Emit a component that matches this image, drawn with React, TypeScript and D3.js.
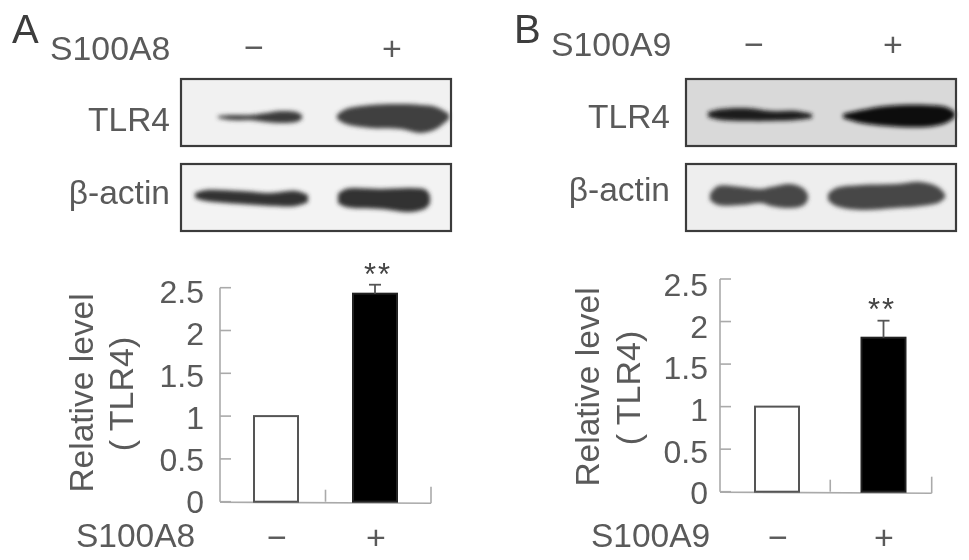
import React from "react";
import * as d3 from "d3";

// ---- data ----
const conditions = ["−", "+"];
const yTicks = [0, 0.5, 1, 1.5, 2, 2.5];
const s100a8Values = [1, 2.43];
const s100a8ErrorTop = [1, 2.535];
const s100a9Values = [1, 1.81];
const s100a9ErrorTop = [1, 2.01];

type Sample = [number, number, number];
const a8Tlr4Minus: Sample[] = [[37,37,39],[50,36,41],[70,36,41],[85,34,43],[100,32,44],[115,33,43],[121,36,40]];
const a8Tlr4Plus: Sample[] = [[156,36,40],[165,30,45],[190,26,49],[220,25,50],[240,26,54],[255,28,50],[268,35,40]];
const a8ActinMinus: Sample[] = [[14,29,34],[25,26,37],[60,27,40],[90,29,42],[115,27,42],[127,31,38]];
const a8ActinPlus: Sample[] = [[157,30,39],[165,25,43],[200,25,45],[230,24,48],[245,26,44],[249,32,39]];
const a9Tlr4Minus: Sample[] = [[22,33,38],[35,30,41],[60,29,42],[85,32,42],[110,32,41],[126,35,39]];
const a9Tlr4Plus: Sample[] = [[157,35,39],[175,31,44],[200,27,47],[240,26,48],[260,28,44],[269,33,38]];
const a9ActinMinus: Sample[] = [[24,30,36],[32,22,41],[55,23,41],[75,25,39],[85,23,42],[105,20,44],[118,25,41],[122,31,35]];
const a9ActinPlus: Sample[] = [[142,30,36],[150,24,42],[175,21,46],[210,20,44],[235,18,42],[252,23,39],[259,30,34]];

const FONT = "'Liberation Sans', Arial, sans-serif";
const TEXT = "#5a5a5a";

function Blot({ x, y, bg, bands, color }: { x: number; y: number; bg: string; bands: Sample[][]; color: string[] }) {
  const w = 270, h = 67;
  const sx = d3.scaleLinear().domain([0, 270]).range([x, x + w]);
  const sy = d3.scaleLinear().domain([0, 67]).range([y, y + h]);
  const area = d3.area<Sample>().x(d => sx(d[0])).y0(d => sy(d[1])).y1(d => sy(d[2])).curve(d3.curveCatmullRom);
  return (
    <g>
      <rect x={x} y={y} width={w} height={h} fill={bg} />
      <g filter="url(#bandBlur)">
        {bands.map((b, i) => <path key={i} d={area(b) || ""} fill={color[i]} />)}
      </g>
      <rect x={x} y={y} width={w} height={h} fill="none" stroke="#3a3a3a" strokeWidth={2.2} filter="url(#soft)" />
    </g>
  );
}

function BarPanel(p: {
  label: string; values: number[]; errors: number[]; axisX: number; axisEnd: number; y0: number; yTop: number;
  labelRight: number; labelY0: number; labelYTop: number; barX: number[]; ylX: [number, number]; ylC: [number, number];
  starX: number; starY: number; nameX: number; signX: number[];
}) {
  const y = d3.scaleLinear().domain([0, 2.5]).range([p.y0, p.yTop]);
  const ly = d3.scaleLinear().domain([0, 2.5]).range([p.labelY0, p.labelYTop]);
  const mid = (p.barX[0] + 44 + p.barX[1]) / 2;
  return (
    <g fontFamily={FONT} fill={TEXT}>
      <g stroke="#aaa" strokeWidth={1.6} fill="none" filter="url(#soft)">
        <line x1={p.axisX} x2={p.axisX} y1={y(2.5)} y2={p.y0} />
        <line x1={p.axisX} x2={p.axisEnd} y1={p.y0 + 0.5} y2={p.y0 + 1.5} />
        <line x1={mid} x2={mid} y1={p.y0 - 12} y2={p.y0} />
        <line x1={p.axisEnd} x2={p.axisEnd} y1={p.y0 - 15} y2={p.y0 + 1.5} />
        {yTicks.map(t => <line key={t} x1={p.axisX} x2={p.axisX + 11} y1={y(t)} y2={y(t)} />)}
      </g>
      {yTicks.map(t => (
        <text key={t} x={p.labelRight} y={ly(t)} dy="0.35em" textAnchor="end" fontSize={32} filter="url(#soft)">{String(t)}</text>
      ))}
      {p.values.map((v, i) => (
        <rect key={i} x={p.barX[i]} y={y(v)} width={44} height={p.y0 - y(v)}
          fill={i === 0 ? "#fff" : "#000"} stroke={i === 0 ? "#555" : "#222"} strokeWidth={2} filter="url(#soft)" />
      ))}
      <g stroke="#555" strokeWidth={1.8} filter="url(#soft)">
        <line x1={p.barX[1] + 22} x2={p.barX[1] + 22} y1={y(p.values[1])} y2={y(p.errors[1])} />
        <line x1={p.barX[1] + 16} x2={p.barX[1] + 28} y1={y(p.errors[1])} y2={y(p.errors[1])} />
      </g>
      <text x={p.starX} y={p.starY} dy="0.58em" textAnchor="middle" fontSize={31} letterSpacing={2} fill="#444" filter="url(#soft)">**</text>
      <text transform={`translate(${p.ylX[0]},${p.ylC[0]}) rotate(-90)`} textAnchor="middle" fontSize={33.5} filter="url(#soft)">Relative level</text>
      <text transform={`translate(${p.ylX[1]},${p.ylC[1]}) rotate(-90)`} textAnchor="middle" fontSize={34} filter="url(#soft)">( TLR4)</text>
      <text x={p.nameX} y={547} fontSize={33.5} filter="url(#soft)">{p.label}</text>
      {conditions.map((c, i) => (
        <text key={c} x={p.signX[i]} y={549} textAnchor="middle" fontSize={34} filter="url(#soft)">{c}</text>
      ))}
    </g>
  );
}

export default function App() {
  return (
    <svg width={969} height={560} style={{ position: "fixed", left: 0, top: 0, background: "#fff" }}>
      <defs>
        <filter id="bandBlur" x="-10%" y="-30%" width="120%" height="160%"><feGaussianBlur stdDeviation="2" /></filter>
        <filter id="soft" x="-10%" y="-10%" width="120%" height="120%"><feGaussianBlur stdDeviation="0.6" /></filter>
      </defs>

      <g fontFamily={FONT} fill={TEXT} filter="url(#soft)">
        <text x={12} y={43} fontSize={40} fill="#3c3c3c">A</text>
        <text x={50} y={60} fontSize={33.8}>S100A8</text>
        <text x={254} y={59} textAnchor="middle" fontSize={34}>{conditions[0]}</text>
        <text x={392} y={60} textAnchor="middle" fontSize={34}>{conditions[1]}</text>
        <text x={170} y={131} textAnchor="end" fontSize={33.5}>TLR4</text>
        <text x={170} y={204} textAnchor="end" fontSize={33.5}>β-actin</text>

        <text x={514} y={43} fontSize={40} fill="#3c3c3c">B</text>
        <text x={551} y={56} fontSize={33.8}>S100A9</text>
        <text x={754} y={56} textAnchor="middle" fontSize={34}>{conditions[0]}</text>
        <text x={893} y={56} textAnchor="middle" fontSize={34}>{conditions[1]}</text>
        <text x={670} y={128} textAnchor="end" fontSize={33.5}>TLR4</text>
        <text x={670} y={201} textAnchor="end" fontSize={33.5}>β-actin</text>
      </g>

      <Blot x={181} y={79} bg="#f1f1f1" bands={[a8Tlr4Minus, a8Tlr4Plus]} color={["#3a3a3a", "#404040"]} />
      <Blot x={181} y={164} bg="#f3f3f3" bands={[a8ActinMinus, a8ActinPlus]} color={["#333", "#333"]} />
      <Blot x={686} y={79} bg="#d9d9d9" bands={[a9Tlr4Minus, a9Tlr4Plus]} color={["#1e1e1e", "#0c0c0c"]} />
      <Blot x={686} y={164} bg="#eeeeee" bands={[a9ActinMinus, a9ActinPlus]} color={["#474747", "#474747"]} />

      <BarPanel label="S100A8" values={s100a8Values} errors={s100a8ErrorTop} axisX={220} axisEnd={431} y0={501.7} yTop={287.7}
        labelRight={204} labelY0={502} labelYTop={292} barX={[254, 353]} ylX={[93, 133]} ylC={[393, 394]}
        starX={378} starY={267} nameX={76} signX={[277, 376]} />
      <BarPanel label="S100A9" values={s100a9Values} errors={s100a9ErrorTop} axisX={720} axisEnd={931.7} y0={491.7} yTop={279}
        labelRight={708} labelY0={493} labelYTop={285} barX={[755, 861.5]} ylX={[599, 640]} ylC={[387, 388]}
        starX={882} starY={302} nameX={591} signX={[778, 884]} />
    </svg>
  );
}
